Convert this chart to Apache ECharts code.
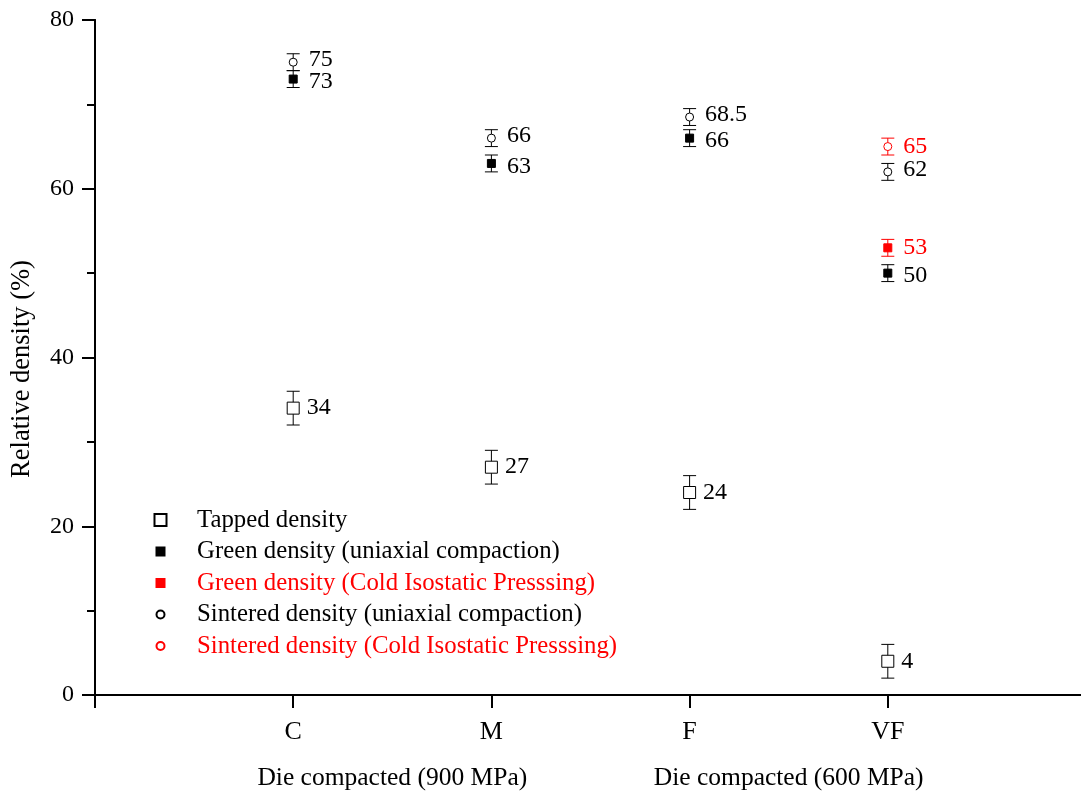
<!DOCTYPE html>
<html><head><meta charset="utf-8">
<script src="https://cdn.jsdelivr.net/npm/echarts@6/dist/echarts.min.js"></script>
<style>html,body{margin:0;padding:0;background:#fff}#c{width:1081px;height:794px}</style>
</head><body><div id="c"></div><script>
// ---- data ----
const categories = ['C', 'M', 'F', 'VF'];
const catPos = [1, 2, 3, 4];
const tapped = [34, 27, 24, 4];
const tappedErr = [2, 2, 2, 2];
const greenUni = [73, 63, 66, 50];
const greenUniErr = [1, 1, 1, 1];
const greenCIP = [null, null, null, 53];
const greenCIPErr = [null, null, null, 1];
const sinteredUni = [75, 66, 68.5, 62];
const sinteredUniErr = [1, 1, 1, 1];
const sinteredCIP = [null, null, null, 65];
const sinteredCIPErr = [null, null, null, 1];
const groupLabels = ['Die compacted (900 MPa)', 'Die compacted (600 MPa)'];
const groupCenters = [1.5, 3.5];
const yTitle = 'Relative density (%)';
const seriesNames = ['Tapped density', 'Green density (uniaxial compaction)', 'Green density (Cold Isostatic Presssing)', 'Sintered density (uniaxial compaction)', 'Sintered density (Cold Isostatic Presssing)'];

// ---- helpers ----
const FONT = '"Liberation Serif", "Times New Roman", serif';
const RED = '#ff0000';
function pts(vals, errs) {
  const out = [];
  catPos.forEach((x, i) => { if (vals[i] != null) out.push([x, vals[i], errs[i]]); });
  return out;
}
function errSeries(name, vals, errs, color, capHalf) {
  return {
    type: 'custom', name: name, z: 1, silent: true,
    data: pts(vals, errs), encode: { x: 0, y: 1 },
    renderItem: function (params, api) {
      const x = api.value(0), y = api.value(1), e = api.value(2);
      const t = api.coord([x, y + e]), b = api.coord([x, y - e]);
      const st = { stroke: color, lineWidth: 1 };
      return { type: 'group', children: [
        { type: 'line', shape: { x1: t[0], y1: t[1], x2: b[0], y2: b[1] }, style: st },
        { type: 'line', shape: { x1: t[0] - capHalf, y1: t[1], x2: t[0] + capHalf, y2: t[1] }, style: st },
        { type: 'line', shape: { x1: b[0] - capHalf, y1: b[1], x2: b[0] + capHalf, y2: b[1] }, style: st }
      ] };
    }
  };
}
function ptSeries(name, vals, errs, symbol, size, fill, border, labelColor, dist, dy) {
  return {
    type: 'scatter', name: name, z: 5,
    data: pts(vals, errs), encode: { x: 0, y: 1 },
    symbol: symbol, symbolSize: size,
    itemStyle: { color: fill, borderColor: border, borderWidth: 1, opacity: 1 },
    label: {
      show: true, position: 'right', distance: dist, offset: [0, dy],
      formatter: p => String(p.value[1]),
      fontFamily: FONT, fontSize: 24, color: labelColor
    },
    emphasis: { disabled: true }
  };
}
function legendFor(name, top, left, iw, ih, pad, color) {
  return {
    data: [name], orient: 'vertical', left: left, top: top, padding: 0,
    itemWidth: iw, itemHeight: ih, selectedMode: false,
    textStyle: { fontFamily: FONT, fontSize: 24.8, color: color, padding: [0, 0, 0, pad] }
  };
}

const chart = echarts.init(document.getElementById('c'), null, { renderer: 'canvas' });
const axisLine = { show: true, lineStyle: { color: '#000', width: 2 } };
const option = {
  backgroundColor: '#fff',
  animation: false,
  grid: { left: 95, right: -5, top: 20, bottom: 99, outerBoundsMode: 'none', containLabel: false },
  xAxis: [
    {
      type: 'value', min: 0, max: 5, interval: 1, position: 'bottom',
      axisLine: axisLine,
      axisTick: { show: true, length: 13, lineStyle: { color: '#000', width: 2 } },
      axisLabel: { formatter: v => categories[v - 1] || '', fontFamily: FONT, fontSize: 26, color: '#000', margin: 24 },
      splitLine: { show: false }
    },
    {
      type: 'value', min: 0, max: 5, interval: 1, position: 'top',
      axisLine: axisLine, axisTick: { show: false }, axisLabel: { show: false }, splitLine: { show: false }
    }
  ],
  yAxis: [
    {
      type: 'value', min: 0, max: 80, interval: 20, position: 'left',
      axisLine: axisLine,
      axisTick: { show: true, length: 13, lineStyle: { color: '#000', width: 2 } },
      minorTick: { show: true, splitNumber: 2, length: 8, lineStyle: { color: '#000', width: 2 } },
      axisLabel: { fontFamily: FONT, fontSize: 24, color: '#000', margin: 21 },
      splitLine: { show: false }, minorSplitLine: { show: false }
    },
    {
      type: 'value', min: 0, max: 80, interval: 20, position: 'right',
      axisLine: axisLine,
      axisTick: { show: true, inside: true, length: 13, lineStyle: { color: '#000', width: 2 } },
      minorTick: { show: true, splitNumber: 2, length: 8, lineStyle: { color: '#000', width: 2 } },
      axisLabel: { show: false }, splitLine: { show: false }, minorSplitLine: { show: false }
    }
  ],
  legend: [
    legendFor(seriesNames[0], 507.5, 153.5, 12, 12, 25.5, '#000'),
    legendFor(seriesNames[1], 539, 155.5, 8, 8, 27.5, '#000'),
    legendFor(seriesNames[2], 570.5, 155.5, 8, 8, 27.5, RED),
    legendFor(seriesNames[3], 602, 155.5, 8, 8, 27.5, '#000'),
    legendFor(seriesNames[4], 633.5, 155.5, 8, 8, 27.5, RED)
  ],
  series: [
    errSeries('e0', tapped, tappedErr, '#000', 6.5),
    errSeries('e1', greenUni, greenUniErr, '#000', 6.5),
    errSeries('e2', greenCIP, greenCIPErr, RED, 6.5),
    errSeries('e3', sinteredUni, sinteredUniErr, '#000', 6.5),
    errSeries('e4', sinteredCIP, sinteredCIPErr, RED, 6.5),
    ptSeries(seriesNames[0], tapped, tappedErr, 'rect', 12, '#fff', '#000', '#000', 7, 0),
    ptSeries(seriesNames[1], greenUni, greenUniErr, 'rect', 8, '#000', '#000', '#000', 11, 3),
    ptSeries(seriesNames[2], greenCIP, greenCIPErr, 'rect', 8, RED, RED, RED, 11, 0),
    ptSeries(seriesNames[3], sinteredUni, sinteredUniErr, 'circle', 8, '#fff', '#000', '#000', 11, -2),
    ptSeries(seriesNames[4], sinteredCIP, sinteredCIPErr, 'circle', 8, '#fff', RED, RED, 11, 0)
  ]
};
chart.setOption(option);
const gy = 778;
const texts = groupLabels.map((t, i) => ({
  type: 'text', silent: true,
  x: chart.convertToPixel({ xAxisIndex: 0 }, groupCenters[i]), y: gy,
  style: { text: t, fontFamily: FONT, fontSize: 25.5, fill: '#000', align: 'center', verticalAlign: 'middle' }
}));
texts.push({
  type: 'text', silent: true, x: 22, y: 369, rotation: Math.PI / 2,
  style: { text: yTitle, fontFamily: FONT, fontSize: 26.5, fill: '#000', align: 'center', verticalAlign: 'middle' }
});
chart.setOption({ graphic: texts });
</script></body></html>
